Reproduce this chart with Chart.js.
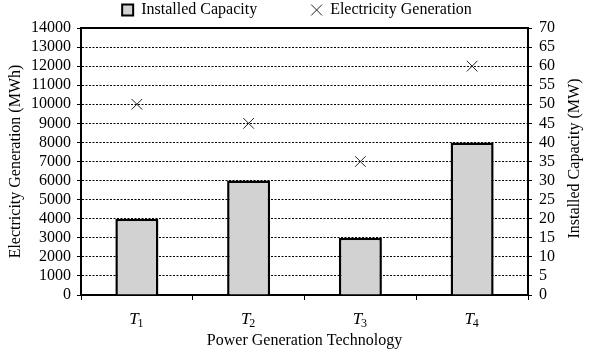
<!DOCTYPE html>
<html>
<head>
<meta charset="utf-8">
<script src="https://cdn.jsdelivr.net/npm/chart.js@4"></script>
<style>
  html, body { margin: 0; padding: 0; background: #fff; }
  #wrap { width: 594px; height: 353px; }
</style>
</head>
<body>
<div id="wrap"><canvas id="PowerChart"></canvas></div>
<script>
const technologies = ["T1", "T2", "T3", "T4"];
const installedCapacity = [20, 30, 15, 40];          // MW, right axis
const electricityGeneration = [10000, 9000, 7000, 12000]; // MWh, left axis

const serif = "'Liberation Serif', 'Times New Roman', serif";

// fixes the legend height so the plot starts where the reference does
const legendHeight = {
  id: "legendHeight",
  beforeInit(chart) {
    const fit = chart.legend.fit;
    chart.legend.fit = function () {
      fit.bind(chart.legend)();
      this.height = 28;
    };
  }
};

// solid top edge, right axis title (bottom-to-top) and T with subscript labels
const frame = {
  id: "frame",
  afterDraw(chart) {
    const c = chart.ctx, a = chart.chartArea;
    c.save();
    c.strokeStyle = "#000";
    c.lineWidth = 2;
    c.beginPath();
    c.moveTo(a.left, a.top);
    c.lineTo(a.right, a.top);
    c.stroke();

    c.fillStyle = "#000";
    c.textBaseline = "alphabetic";
    const xs = chart.scales.x;
    technologies.forEach((lab, i) => {
      const x = xs.getPixelForValue(i);
      c.font = "italic 17px " + serif;
      const wT = c.measureText(lab[0]).width;
      c.font = "12px " + serif;
      const wS = c.measureText(lab.slice(1)).width;
      const x0 = x - (wT + wS) / 2;
      c.font = "italic 17px " + serif;
      c.textAlign = "left";
      c.fillText(lab[0], x0, a.bottom + 29);
      c.font = "12px " + serif;
      c.fillText(lab.slice(1), x0 + wT - 1, a.bottom + 32);
    });

    c.translate(575, (a.top + a.bottom) / 2 - 3);
    c.rotate(-Math.PI / 2);
    c.font = "16px " + serif;
    c.textAlign = "center";
    c.textBaseline = "middle";
    c.fillText("Installed Capacity (MW)", 0, 0);
    c.restore();
  }
};

new Chart(document.getElementById("PowerChart"), {
  data: {
    labels: technologies,
    datasets: [{
        type: "bar",
        label: "Installed Capacity",
        data: installedCapacity,
        yAxisID: "y2",
        backgroundColor: "#d2d2d2",
        borderColor: "#000",
        borderWidth: 2.5,
        pointStyle: "rect",
        barPercentage: 0.385,
        categoryPercentage: 1
      }, {
        type: "line",
        label: "Electricity Generation",
        data: electricityGeneration,
        yAxisID: "y",
        showLine: false,
        pointStyle: "crossRot",
        pointRadius: 7.5,
        pointBorderWidth: 1,
        borderColor: "#222",
        backgroundColor: "#222"
      }
    ]
  },
  options: {
    responsive: true,
    maintainAspectRatio: false,
    animation: false,
    layout: { padding: 0 },
    plugins: {
      tooltip: { enabled: false },
      legend: {
        labels: {
          usePointStyle: true,
          boxWidth: 11,
          boxHeight: 11,
          padding: 2,
          color: "#000",
          font: { family: serif, size: 16 },
          generateLabels(chart) {
            const items = Chart.defaults.plugins.legend.labels.generateLabels(chart);
            items[0].text = items[0].text + "             ";
            items[0].lineWidth = 2;
            return items;
          }
        }
      }
    },
    scales: {
      x: {
        grid: { display: true, drawOnChartArea: false, drawTicks: true, tickLength: 5, tickColor: "#000", offset: true },
        border: { color: "#000", width: 2 },
        ticks: { display: false },
        title: { display: true, text: "Power Generation Technology", color: "#000", padding: { top: 0, bottom: 3 }, font: { family: serif, size: 16 } },
        afterFit(scale) { scale.height = 58; }
      },
      y: {
        position: "left",
        min: 0,
        max: 14000,
        ticks: { stepSize: 1000, autoSkip: false, color: "#000", padding: 6, font: { family: serif, size: 16 },
                 callback: (v) => String(v) },
        grid: { color: "#000", lineWidth: 1, tickLength: 4, tickColor: "#000" },
        border: { color: "#000", width: 2, dash: [2, 1.5] },
        title: { display: true, text: "Electricity Generation (MWh)", color: "#000", padding: { top: 6, bottom: 0 }, font: { family: serif, size: 16 } },
        afterFit(scale) { scale.width = 81; }
      },
      y2: {
        position: "right",
        min: 0,
        max: 70,
        ticks: { stepSize: 5, autoSkip: false, color: "#000", padding: 7, font: { family: serif, size: 16 } },
        grid: { drawOnChartArea: false, tickLength: 4, tickColor: "#000", color: "#000" },
        border: { color: "#000", width: 2 },
        afterFit(scale) { scale.width = 66; }
      }
    }
  },
  plugins: [legendHeight, frame]
});
</script>
</body>
</html>
